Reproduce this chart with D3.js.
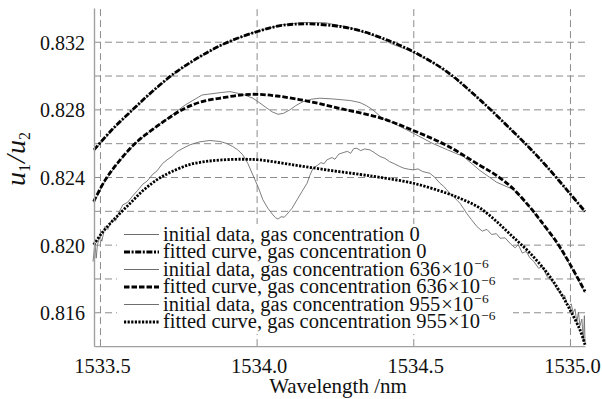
<!DOCTYPE html>
<html>
<head>
<meta charset="utf-8">
<script src="https://cdn.jsdelivr.net/npm/d3@7/dist/d3.min.js"></script>
<style>
    body { margin: 0; background: #fff; }
    svg { display: block; }
    svg text { font-family: "Liberation Serif", "DejaVu Serif", "Noto Serif", serif; fill: #111; }
</style>
</head>
<body>
<svg id="chart" width="602" height="399"></svg>
<script>
// axis values
const wavelengthDomain = [1533.481, 1535.048];
const ratioDomain = [0.814, 0.834];
const xTickValues = [1533.5, 1534.0, 1534.5, 1535.0];
const yTickValues = [0.816, 0.820, 0.824, 0.828, 0.832];
const yGridValues = [0.816, 0.818, 0.820, 0.822, 0.824, 0.826, 0.828, 0.830, 0.832];

// [wavelength nm, u1/u2]
const initial0 = [
    [1533.481, 0.82555], [1533.538, 0.82675], [1533.602, 0.82790], [1533.666, 0.82900],
    [1533.74, 0.83015], [1533.819, 0.83110], [1533.90, 0.83192], [1534.00, 0.83262],
    [1534.08, 0.83300], [1534.15, 0.83314], [1534.22, 0.83312], [1534.30, 0.83282],
    [1534.394, 0.83222], [1534.43, 0.83188], [1534.47, 0.83160], [1534.50, 0.83136],
    [1534.56, 0.83080], [1534.607, 0.83020], [1534.66, 0.82940], [1534.713, 0.82858],
    [1534.77, 0.82760], [1534.819, 0.82665], [1534.872, 0.82572], [1534.926, 0.82460],
    [1534.990, 0.82322], [1535.048, 0.82194]
];
const fitted0 = [
    [1533.481, 0.82560], [1533.538, 0.82679], [1533.602, 0.82794], [1533.666, 0.82904],
    [1533.74, 0.83017], [1533.819, 0.83112], [1533.90, 0.83191], [1534.00, 0.83259],
    [1534.08, 0.83296], [1534.17, 0.83305], [1534.30, 0.83279], [1534.394, 0.83226],
    [1534.50, 0.83141], [1534.607, 0.83023], [1534.713, 0.82856], [1534.819, 0.82668],
    [1534.872, 0.82570], [1534.926, 0.82462], [1534.990, 0.82324], [1535.048, 0.82196]
];
const initial636 = [
    [1533.481, 0.82250], [1533.517, 0.82380], [1533.560, 0.82488], [1533.613, 0.82598],
    [1533.666, 0.82680], [1533.719, 0.82752], [1533.772, 0.82826], [1533.826, 0.82885],
    [1533.889, 0.82900], [1533.915, 0.82905], [1533.956, 0.82889], [1533.988, 0.82866],
    [1534.01, 0.82838], [1534.033, 0.82807], [1534.05, 0.82785], [1534.068, 0.82771],
    [1534.085, 0.82776], [1534.106, 0.82797], [1534.125, 0.82822], [1534.148, 0.82846],
    [1534.175, 0.82860], [1534.202, 0.82866], [1534.24, 0.82862], [1534.276, 0.82856],
    [1534.30, 0.82852], [1534.330, 0.82840], [1534.35, 0.82822], [1534.371, 0.82797],
    [1534.403, 0.82745], [1534.44, 0.82715], [1534.500, 0.82659], [1534.56, 0.82600],
    [1534.610, 0.82560], [1534.660, 0.82521], [1534.713, 0.82438], [1534.766, 0.82369],
    [1534.819, 0.82326], [1534.872, 0.82218], [1534.904, 0.82142], [1534.959, 0.82005],
    [1535.00, 0.81880], [1535.048, 0.81715]
];
const fitted636 = [
    [1533.480, 0.82255], [1533.517, 0.82383], [1533.560, 0.82491], [1533.613, 0.82600],
    [1533.666, 0.82678], [1533.719, 0.82748], [1533.772, 0.82807], [1533.826, 0.82846],
    [1533.889, 0.82868], [1533.956, 0.82886], [1534.001, 0.82889], [1534.065, 0.82879],
    [1534.17, 0.82846], [1534.276, 0.82801], [1534.394, 0.82750], [1534.500, 0.82675],
    [1534.607, 0.82586], [1534.713, 0.82468], [1534.766, 0.82409], [1534.819, 0.82330],
    [1534.872, 0.82222], [1534.904, 0.82147], [1534.959, 0.82011], [1535.00, 0.81885],
    [1535.048, 0.81723]
];
const initial955 = [
    [1533.478, 0.81900], [1533.484, 0.82011], [1533.488, 0.81920], [1533.492, 0.82000],
    [1533.500, 0.82048], [1533.506, 0.82020], [1533.516, 0.82107], [1533.525, 0.82090],
    [1533.538, 0.82147], [1533.550, 0.82140], [1533.560, 0.82190], [1533.573, 0.82235],
    [1533.588, 0.82250], [1533.605, 0.82289], [1533.620, 0.82320], [1533.637, 0.82358],
    [1533.650, 0.82375], [1533.669, 0.82417], [1533.682, 0.82436], [1533.700, 0.82480],
    [1533.714, 0.82501], [1533.730, 0.82522], [1533.746, 0.82550], [1533.765, 0.82570],
    [1533.787, 0.82590], [1533.800, 0.82598], [1533.819, 0.82608], [1533.851, 0.82616],
    [1533.883, 0.82610], [1533.905, 0.82598], [1533.924, 0.82580], [1533.940, 0.82560],
    [1533.956, 0.82531], [1533.972, 0.82480], [1533.988, 0.82412], [1534.005, 0.82340],
    [1534.020, 0.82265], [1534.036, 0.82215], [1534.052, 0.82176], [1534.060, 0.82160],
    [1534.068, 0.82151], [1534.078, 0.82165], [1534.088, 0.82162], [1534.097, 0.82180],
    [1534.113, 0.82215], [1534.129, 0.82265], [1534.145, 0.82315], [1534.161, 0.82363],
    [1534.170, 0.82410], [1534.180, 0.82452], [1534.195, 0.82470], [1534.205, 0.82485],
    [1534.215, 0.82478], [1534.224, 0.82501], [1534.240, 0.82515], [1534.250, 0.82505],
    [1534.262, 0.82535], [1534.276, 0.82544], [1534.290, 0.82552], [1534.300, 0.82540],
    [1534.310, 0.82568], [1534.320, 0.82570], [1534.332, 0.82556], [1534.345, 0.82566],
    [1534.362, 0.82560], [1534.375, 0.82545], [1534.394, 0.82521], [1534.410, 0.82510],
    [1534.425, 0.82490], [1534.440, 0.82478], [1534.457, 0.82462], [1534.470, 0.82452],
    [1534.485, 0.82446], [1534.500, 0.82442], [1534.515, 0.82448], [1534.530, 0.82432],
    [1534.553, 0.82422], [1534.570, 0.82395], [1534.585, 0.82363], [1534.597, 0.82345],
    [1534.607, 0.82324], [1534.618, 0.82300], [1534.628, 0.82284], [1534.640, 0.82262],
    [1534.649, 0.82245], [1534.660, 0.82215], [1534.670, 0.82186], [1534.686, 0.82147],
    [1534.703, 0.82107], [1534.720, 0.82080], [1534.735, 0.82090], [1534.750, 0.82060],
    [1534.765, 0.82065], [1534.777, 0.82038], [1534.793, 0.82040], [1534.810, 0.82005],
    [1534.825, 0.81981], [1534.835, 0.82000], [1534.848, 0.81950], [1534.860, 0.81960],
    [1534.872, 0.81922], [1534.885, 0.81900], [1534.900, 0.81860], [1534.912, 0.81870],
    [1534.927, 0.81810], [1534.940, 0.81790], [1534.950, 0.81765], [1534.959, 0.81733],
    [1534.968, 0.81720], [1534.975, 0.81690], [1534.983, 0.81700], [1534.990, 0.81656],
    [1534.998, 0.81640], [1535.004, 0.81650], [1535.010, 0.81597], [1535.016, 0.81620],
    [1535.022, 0.81540], [1535.027, 0.81600], [1535.032, 0.81520], [1535.038, 0.81560],
    [1535.043, 0.81430], [1535.046, 0.81580], [1535.048, 0.81420]
];
const fitted955 = [
    [1533.480, 0.81999], [1533.506, 0.82068], [1533.538, 0.82136], [1533.570, 0.82196],
    [1533.602, 0.82255], [1533.634, 0.82314], [1533.666, 0.82363], [1533.698, 0.82402],
    [1533.730, 0.82432], [1533.783, 0.82472], [1533.835, 0.82491], [1533.889, 0.82501],
    [1533.956, 0.82505], [1534.011, 0.82501], [1534.116, 0.82472], [1534.224, 0.82442],
    [1534.330, 0.82415], [1534.394, 0.82398], [1534.500, 0.82363], [1534.607, 0.82304],
    [1534.660, 0.82265], [1534.713, 0.82216], [1534.767, 0.82135], [1534.818, 0.82046],
    [1534.872, 0.81951], [1534.927, 0.81833], [1534.968, 0.81721], [1535.00, 0.81615],
    [1535.032, 0.81496], [1535.048, 0.81408]
];

const legendLabels = [
    "initial data, gas concentration 0",
    "fitted curve, gas concentration 0",
    "initial data, gas concentration 636",
    "fitted curve, gas concentration 636",
    "initial data, gas concentration 955",
    "fitted curve, gas concentration 955"
];

const plot = { left: 94, right: 585, top: 7.9, bottom: 346.1 };
const gridColor = "#8c8c8c";
const initialStyle = { stroke: "#6e6e6e", width: 0.9, dash: null, fitted: false };
const lineStyles = [
    initialStyle,
    { stroke: "#000", width: 2.8, dash: "6,1.6,2,1.6", fitted: true },
    initialStyle,
    { stroke: "#000", width: 2.8, dash: "5.5,2", fitted: true },
    initialStyle,
    { stroke: "#000", width: 2.8, dash: "2.2,1.4", fitted: true }
];
const seriesList = [initial0, fitted0, initial636, fitted636, initial955, fitted955];

const svg = d3.select("#chart");

const scaleX = d3.scaleLinear().domain(wavelengthDomain).range([plot.left, plot.right]);
const scaleY = d3.scaleLinear().domain(ratioDomain).range([plot.bottom, plot.top]);

// grid
svg.append("g")
    .attr("class", "y-grid")
    .attr("transform", `translate(${plot.left}, 0)`)
    .call(d3.axisLeft(scaleY).tickValues(yGridValues).tickSize(-(plot.right - plot.left)).tickFormat(""))
    .call(g => g.select(".domain").remove())
    .selectAll("line")
    .attr("stroke", gridColor)
    .attr("stroke-dasharray", "7,4");

svg.append("g")
    .attr("class", "x-grid")
    .attr("transform", `translate(0, ${plot.bottom})`)
    .call(d3.axisBottom(scaleX).tickValues(xTickValues).tickSize(-(plot.bottom - plot.top)).tickFormat(""))
    .call(g => g.select(".domain").remove())
    .selectAll("line")
    .attr("stroke", gridColor)
    .attr("stroke-dasharray", "7,4");

// legend background hides the grid, the curves still run over it
svg.append("rect")
    .attr("class", "legend-bg")
    .attr("x", 117).attr("y", 224)
    .attr("width", 396).attr("height", 110)
    .attr("fill", "#fff");

// curves
const lineFor = (fitted) => d3.line()
    .x(d => scaleX(d[0]))
    .y(d => scaleY(d[1]))
    .curve(fitted ? d3.curveCatmullRom.alpha(0.5) : d3.curveLinear);

seriesList.forEach((series, i) => {
    const style = lineStyles[i];
    svg.append("path")
        .datum(series)
        .attr("fill", "none")
        .attr("stroke", style.stroke)
        .attr("stroke-width", style.width)
        .attr("stroke-dasharray", style.dash)
        .attr("stroke-linejoin", "round")
        .attr("d", lineFor(style.fitted));
});

// legend entries
const legend = svg.append("g").attr("class", "legend");
legendLabels.forEach((label, i) => {
    const style = lineStyles[i];
    const cy = 234.5 + i * 17.5;
    legend.append("line")
        .attr("x1", 124).attr("x2", 159)
        .attr("y1", cy).attr("y2", cy)
        .attr("stroke", style.stroke)
        .attr("stroke-width", style.fitted ? 2.8 : 1)
        .attr("stroke-dasharray", style.dash);
    const text = legend.append("text")
        .attr("x", 163)
        .attr("y", cy + 6)
        .attr("font-size", 20.5)
        .text(label);
    if (!label.endsWith(" 0")) {
        text.append("tspan").attr("dx", 1).text("\u00d710");
        text.append("tspan").attr("font-size", 13.5).attr("dx", 1).attr("dy", -8).text("\u22126");
    }
});

// axes
svg.append("g")
    .attr("class", "y-axis")
    .attr("transform", `translate(${plot.left}, 0)`)
    .call(d3.axisLeft(scaleY).tickValues(yTickValues).tickSize(0).tickSizeOuter(0).tickPadding(9).tickFormat(d3.format(".3f")))
    .call(g => g.select(".domain").attr("stroke", "#a0a0a0").attr("stroke-width", 1.4))
    .call(g => g.selectAll("text").attr("font-size", 20).attr("dy", 7.5));

svg.append("g")
    .attr("class", "x-axis")
    .attr("transform", `translate(0, ${plot.bottom})`)
    .call(d3.axisBottom(scaleX).tickValues(xTickValues).tickSize(0).tickSizeOuter(0).tickPadding(12).tickFormat(d3.format(".1f")))
    .call(g => g.select(".domain").attr("stroke", "#a0a0a0").attr("stroke-width", 1.4))
    .call(g => g.selectAll("text").attr("font-size", 20.5).attr("dx", 2).attr("dy", 14.5));

svg.append("text")
    .attr("x", 338)
    .attr("y", 393)
    .attr("text-anchor", "middle")
    .attr("font-size", 21)
    .text("Wavelength /nm");

const yLabel = svg.append("text")
    .attr("transform", "translate(25, 159) rotate(-90)")
    .attr("text-anchor", "middle")
    .attr("font-size", 28)
    .attr("font-style", "italic");
yLabel.append("tspan").text("u");
yLabel.append("tspan").attr("font-size", 16).attr("font-style", "normal").attr("dy", 5).text("1");
yLabel.append("tspan").attr("dx", 1).attr("dy", -5).text("/");
yLabel.append("tspan").attr("dx", 1).text("u");
yLabel.append("tspan").attr("font-size", 16).attr("font-style", "normal").attr("dy", 5).text("2");
</script>
</body>
</html>
